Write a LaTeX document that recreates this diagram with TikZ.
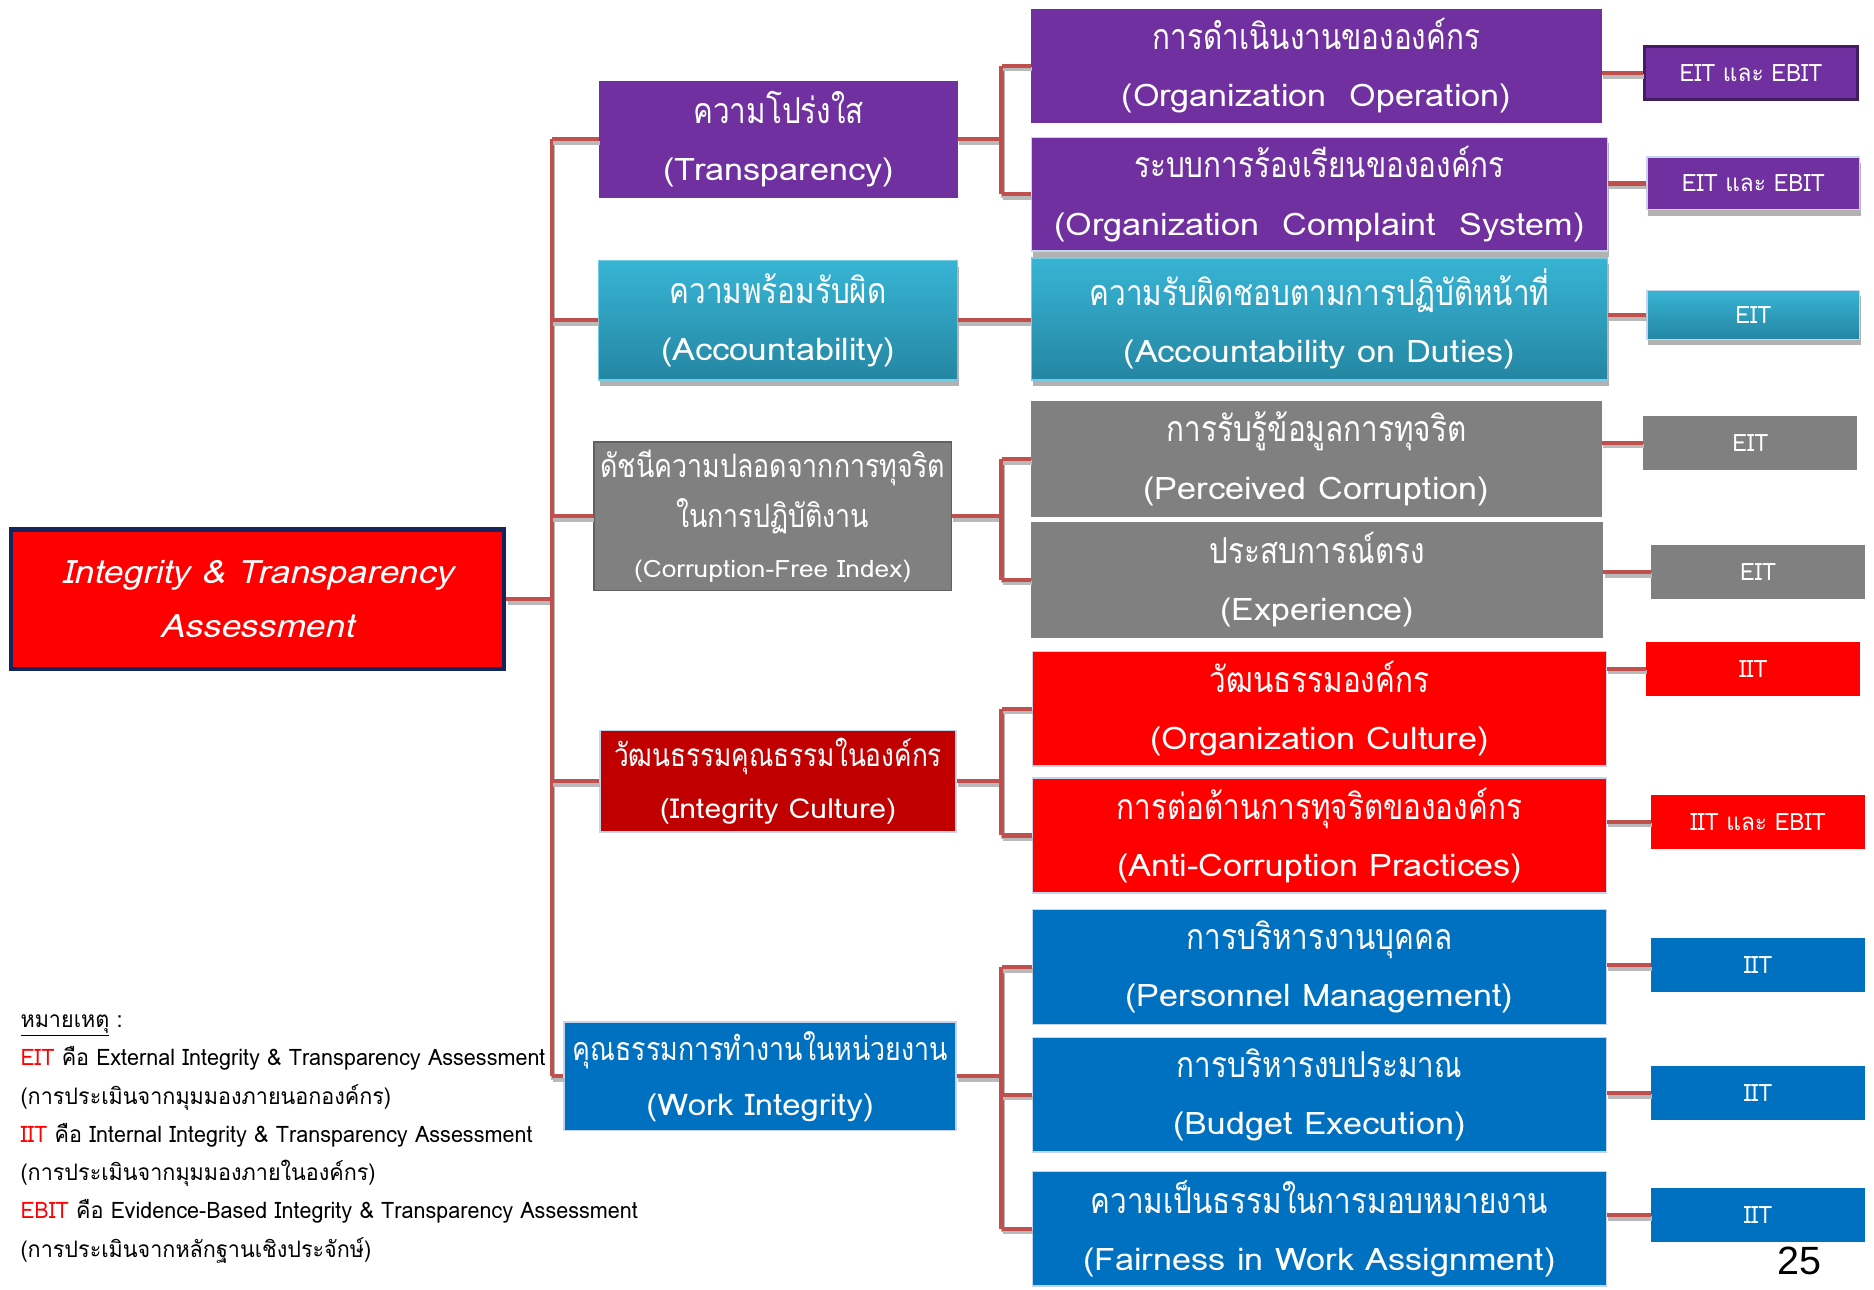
\documentclass[tikz,border=0pt]{standalone}
\usepackage{fontspec}
\setmainfont[Script=Thai,FakeStretch=0.95]{Loma}
\newfontfamily\thaibig[Script=Thai,Scale=1.15,FakeStretch=0.83]{Loma}
\newfontfamily\latinfont[FakeStretch=1.1]{Loma}
\newfontfamily\pagefont{Liberation Sans}
\usetikzlibrary{positioning,shadows}

\definecolor{linkred}{RGB}{192,80,77}
\definecolor{itapurple}{RGB}{112,48,160}
\definecolor{itateal}{RGB}{56,180,213}
\definecolor{itatealdark}{RGB}{36,134,162}
\definecolor{itagrey}{RGB}{128,128,128}
\definecolor{itadarkred}{RGB}{192,0,0}
\definecolor{itared}{RGB}{255,0,0}
\definecolor{itablue}{RGB}{0,112,192}
\definecolor{itanavy}{RGB}{22,36,92}
\definecolor{itaedge}{RGB}{196,212,236}

\tikzset{
  catbox/.style={draw=itaedge, line width=1.2pt, text=white, align=center, inner sep=0pt,
    font=\thaibig\fontsize{26}{48}\selectfont},
  aspectbox/.style={catbox, minimum width=480pt, minimum height=96pt},
  tealbox/.style={catbox, draw=itateal!70!white, top color=itateal, bottom color=itatealdark},
  boxshadow/.style={drop shadow={shadow xshift=1pt, shadow yshift=-5pt, fill=black, opacity=.3}},
  tagbox/.style={catbox, minimum width=178pt, minimum height=44pt, font=\fontsize{20}{24}\selectfont},
  purpletag/.style={tagbox, fill=itapurple, draw=itapurple!60!black, line width=2.5pt},
  purpletagsh/.style={tagbox, fill=itapurple, boxshadow},
  tealtag/.style={tealbox, tagbox, minimum height=41pt, boxshadow},
  greytag/.style={tagbox, fill=itagrey, draw=itagrey},
  redtag/.style={tagbox, fill=itared, draw=itared},
  bluetag/.style={tagbox, fill=itablue, draw=itablue},
  link/.style={draw=linkred, line width=3.5pt,
    preaction={draw=gray!55, line width=3.5pt, transform canvas={xshift=1pt, yshift=-3pt}}}
}

\begin{document}
\begin{tikzpicture}[x=1pt, y=-1pt]
\useasboundingbox (0,0) rectangle (1568,1079);

% Root of the tree
\node[catbox, draw=itanavy, line width=3.5pt, fill=itared, minimum width=413pt, minimum height=117pt,
  font=\latinfont\itshape\fontsize{27}{45}\selectfont] (root) at (215.5,501.5)
  {Integrity \& Transparency\\Assessment};

% First level
\node[catbox, fill=itapurple, draw=itapurple, minimum width=299pt, minimum height=97pt] (transp)
  at (651.5,116.5) {ความโปร่งใส\\\latinfont(Transparency)};
\node[tealbox, boxshadow, minimum width=300pt, minimum height=100pt] (accnt)
  at (651,268) {ความพร้อมรับผิด\\\latinfont(Accountability)};
\node[catbox, fill=itagrey, draw=gray!75!black, minimum width=299pt, minimum height=124pt,
  font=\thaibig\fontsize{23.5}{42}\selectfont] (cfi) at (646.5,432)
  {ดัชนีความปลอดจากการทุจริต\\ในการปฏิบัติงาน\\\latinfont\fontsize{20}{40}\selectfont(Corruption-Free Index)};
\node[catbox, fill=itadarkred, minimum width=298pt, minimum height=85pt,
  font=\thaibig\fontsize{23}{43}\selectfont] (iculture) at (651,653.5)
  {วัฒนธรรมคุณธรรมในองค์กร\\\latinfont(Integrity Culture)};
\node[catbox, fill=itablue, minimum width=328pt, minimum height=91pt,
  font=\thaibig\fontsize{23.5}{46}\selectfont] (work) at (636,900.5)
  {คุณธรรมการทำงานในหน่วยงาน\\\latinfont\fontsize{25}{46}\selectfont(Work Integrity)};

% Second level
\node[aspectbox, fill=itapurple, draw=itapurple, minimum width=477pt, minimum height=94pt] (orgop)
  at (1101.5,55) {การดำเนินงานขององค์กร\\\latinfont(Organization\ \ Operation)};
\node[aspectbox, fill=itapurple, boxshadow, minimum width=482pt, minimum height=95pt] (complaint)
  at (1104,162.5) {ระบบการร้องเรียนขององค์กร\\\latinfont(Organization\ \ Complaint\ \ System)};
\node[aspectbox, tealbox, boxshadow, minimum width=482pt, minimum height=102pt] (duties)
  at (1104,267) {ความรับผิดชอบตามการปฏิบัติหน้าที่\\\latinfont(Accountability on Duties)};
\node[aspectbox, fill=itagrey, draw=itagrey, minimum width=477pt] (perceived)
  at (1101.5,384) {การรับรู้ข้อมูลการทุจริต\\\latinfont(Perceived Corruption)};
\node[aspectbox, fill=itagrey, draw=itagrey, minimum width=478pt] (experience)
  at (1102,485) {ประสบการณ์ตรง\\\latinfont(Experience)};
\node[aspectbox, fill=itared] (orgculture) at (1104,593) {วัฒนธรรมองค์กร\\\latinfont(Organization Culture)};
\node[aspectbox, fill=itared] (anticorr) at (1104,699) {การต่อต้านการทุจริตขององค์กร\\\latinfont(Anti-Corruption Practices)};
\node[aspectbox, fill=itablue] (personnel) at (1104,809) {การบริหารงานบุคคล\\\latinfont(Personnel Management)};
\node[aspectbox, fill=itablue] (budget) at (1104,916) {การบริหารงบประมาณ\\\latinfont(Budget Execution)};
\node[aspectbox, fill=itablue] (fairness) at (1104,1028) {ความเป็นธรรมในการมอบหมายงาน\\\latinfont(Fairness in Work Assignment)};

% Assessment tags
\foreach \n/\s/\x/\y/\t in {tagA/purpletag/1465/61/EIT และ EBIT, tagB/purpletagsh/1467/153.5/EIT และ EBIT,
  tagC/tealtag/1467/263.5/EIT, tagD/greytag/1464.5/370.5/EIT, tagE/greytag/1471/478.5/EIT,
  tagF/redtag/1467/559.5/IIT, tagG/redtag/1471/687.5/IIT และ EBIT, tagH/bluetag/1471/807.5/IIT,
  tagI/bluetag/1471/914.5/IIT, tagJ/bluetag/1471/1016.5/IIT}
  \node[\s] (\n) at (\x,\y) {\t};

% Connectors
\coordinate (trunk) at (462,0);
\coordinate (bar) at (838,0);
\draw[link] (root.east) -- (root.east -| trunk);
\draw[link] (trunk |- transp.west) -- (trunk |- work.west);
\foreach \n in {transp,accnt,cfi,iculture,work}
  \draw[link] (trunk |- \n.west) -- (\n.west);
\foreach \p/\a/\b in {transp/orgop/complaint, cfi/perceived/experience,
  iculture/orgculture/anticorr, work/personnel/fairness}{
  \draw[link] (\p.east) -- (\p.east -| bar);
  \draw[link] (bar |- \a.west) -- (bar |- \b.west);
}
\foreach \c in {orgop,complaint,perceived,experience,orgculture,anticorr,personnel,budget,fairness}
  \draw[link] (bar |- \c.west) -- (\c.west);
\draw[link] (accnt.east) -- (accnt.east -| duties.west);
\foreach \t/\p in {tagA/orgop, tagB/complaint, tagC/duties, tagD/perceived, tagE/experience,
  tagF/orgculture, tagG/anticorr, tagH/personnel, tagI/budget, tagJ/fairness}
  \draw[link] (\t.west -| \p.east) -- (\t.west);

% Legend
\node[anchor=north west, align=left, inner sep=0pt, font=\fontsize{19}{32}\selectfont] (legend) at (17,849)
  {\underline{หมายเหตุ} :\\
   \textcolor{itared}{EIT} คือ External Integrity \& Transparency Assessment\\
   (การประเมินจากมุมมองภายนอกองค์กร)\\
   \textcolor{itared}{IIT} คือ Internal Integrity \& Transparency Assessment\\
   (การประเมินจากมุมมองภายในองค์กร)\\
   \textcolor{itared}{EBIT} คือ Evidence-Based Integrity \& Transparency Assessment\\
   (การประเมินจากหลักฐานเชิงประจักษ์)};

\node[inner sep=0pt, font=\pagefont\fontsize{33}{36}\selectfont] (pagenum) at (1506,1055) {25};
\end{tikzpicture}
\end{document}
